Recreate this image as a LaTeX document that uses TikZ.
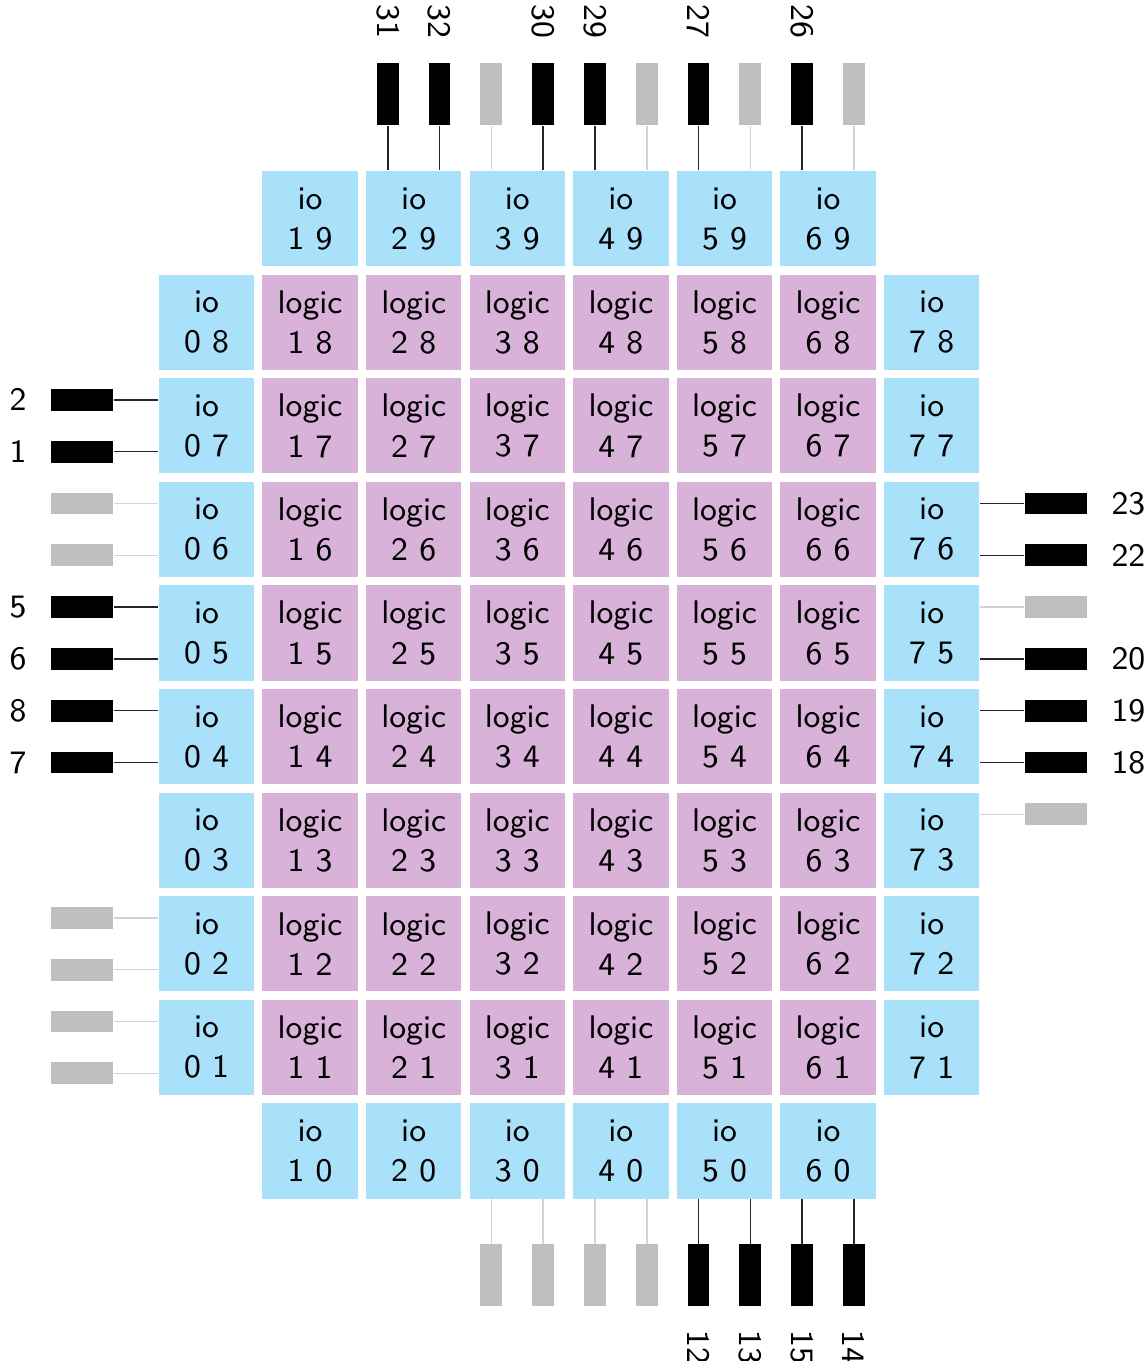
\documentclass[tikz,border=0pt]{standalone}
\usepackage{tikz}
\usetikzlibrary{positioning}
\definecolor{iobl}{RGB}{169,224,250}
\definecolor{logicpu}{RGB}{217,178,217}
\definecolor{pingrey}{RGB}{191,191,191}
\definecolor{wiregrey}{RGB}{210,210,210}
\tikzset{
  tile/.style={rectangle, minimum size=0.92cm, inner sep=0pt, align=center,
    font=\sffamily\small},
  iotile/.style={tile, fill=iobl},
  logictile/.style={tile, fill=logicpu},
  hpin/.style={rectangle, minimum width=0.6cm, minimum height=0.21cm, inner sep=0pt},
  vpin/.style={rectangle, minimum width=0.21cm, minimum height=0.6cm, inner sep=0pt},
  pinblk/.style={fill=black},
  pingry/.style={fill=pingrey},
  pinlbl/.style={font=\sffamily\small},
  wireblk/.style={line width=0.4pt, color=black!85},
  wiregry/.style={line width=0.4pt, color=wiregrey}
}

\begin{document}
\begin{tikzpicture}
  \useasboundingbox (-1.993,-2.027) rectangle (9.088,11.11);

  % logic tiles
  \foreach \x in {1,...,6}
    \foreach \y in {1,...,8}
      \node[logictile] (t-\x-\y) at (\x,\y) {logic\\\x\ \y};

  % io tiles, top and bottom
  \foreach \x in {1,...,6} {
    \node[iotile] (t-\x-0) at (\x,0) {io\\\x\ 0};
    \node[iotile] (t-\x-9) at (\x,9) {io\\\x\ 9};
  }
  % io tiles, left and right
  \foreach \y in {1,...,8} {
    \node[iotile] (t-0-\y) at (0,\y) {io\\0\ \y};
    \node[iotile] (t-7-\y) at (7,\y) {io\\7\ \y};
  }

  % left pins
  \foreach \row/\off/\num in {7/1/2, 7/-1/1, 5/1/5, 5/-1/6, 4/1/8, 4/-1/7} {
    \node[hpin, pinblk] (pin\num) at (-1.2,\row+0.25*\off) {};
    \node[pinlbl, left=3pt of pin\num] (lbl\num) {\num};
    \draw[wireblk] (pin\num.east) -- (pin\num.east -| t-0-\row.west);
  }
  \foreach \row/\off/\k in {6/1/a, 6/-1/b, 2/1/a, 2/-1/b, 1/1/a, 1/-1/b} {
    \node[hpin, pingry] (pinl\row\k) at (-1.2,\row+0.25*\off) {};
    \draw[wiregry] (pinl\row\k.east) -- (pinl\row\k.east -| t-0-\row.west);
  }

  % right pins
  \foreach \row/\off/\num in {6/1/23, 6/-1/22, 5/-1/20, 4/1/19, 4/-1/18} {
    \node[hpin, pinblk] (pin\num) at (8.2,\row+0.25*\off) {};
    \node[pinlbl, right=3pt of pin\num] (lbl\num) {\num};
    \draw[wireblk] (pin\num.west) -- (pin\num.west -| t-7-\row.east);
  }
  \foreach \row/\off/\k in {5/1/a, 3/1/a} {
    \node[hpin, pingry] (pinr\row\k) at (8.2,\row+0.25*\off) {};
    \draw[wiregry] (pinr\row\k.west) -- (pinr\row\k.west -| t-7-\row.east);
  }

  % top pins
  \foreach \col/\off/\num in {2/-1/31, 2/1/32, 3/1/30, 4/-1/29, 5/-1/27, 6/-1/26} {
    \node[vpin, pinblk] (pin\num) at (\col+0.25*\off,10.2) {};
    \node[pinlbl, rotate=-90, anchor=east] (lbl\num) at ([yshift=3pt]pin\num.north) {\num};
    \draw[wireblk] (pin\num.south) -- (pin\num.south |- t-\col-9.north);
  }
  \foreach \col/\off/\k in {3/-1/a, 4/1/b, 5/1/b, 6/1/b} {
    \node[vpin, pingry] (pint\col\k) at (\col+0.25*\off,10.2) {};
    \draw[wiregry] (pint\col\k.south) -- (pint\col\k.south |- t-\col-9.north);
  }

  % bottom pins
  \foreach \col/\off/\num in {5/-1/12, 5/1/13, 6/-1/15, 6/1/14} {
    \node[vpin, pinblk] (pin\num) at (\col+0.25*\off,-1.2) {};
    \node[pinlbl, rotate=-90, anchor=west] (lbl\num) at ([yshift=-3pt]pin\num.south) {\num};
    \draw[wireblk] (pin\num.north) -- (pin\num.north |- t-\col-0.south);
  }
  \foreach \col/\off/\k in {3/-1/a, 3/1/b, 4/-1/a, 4/1/b} {
    \node[vpin, pingry] (pinb\col\k) at (\col+0.25*\off,-1.2) {};
    \draw[wiregry] (pinb\col\k.north) -- (pinb\col\k.north |- t-\col-0.south);
  }

\end{tikzpicture}
\end{document}
